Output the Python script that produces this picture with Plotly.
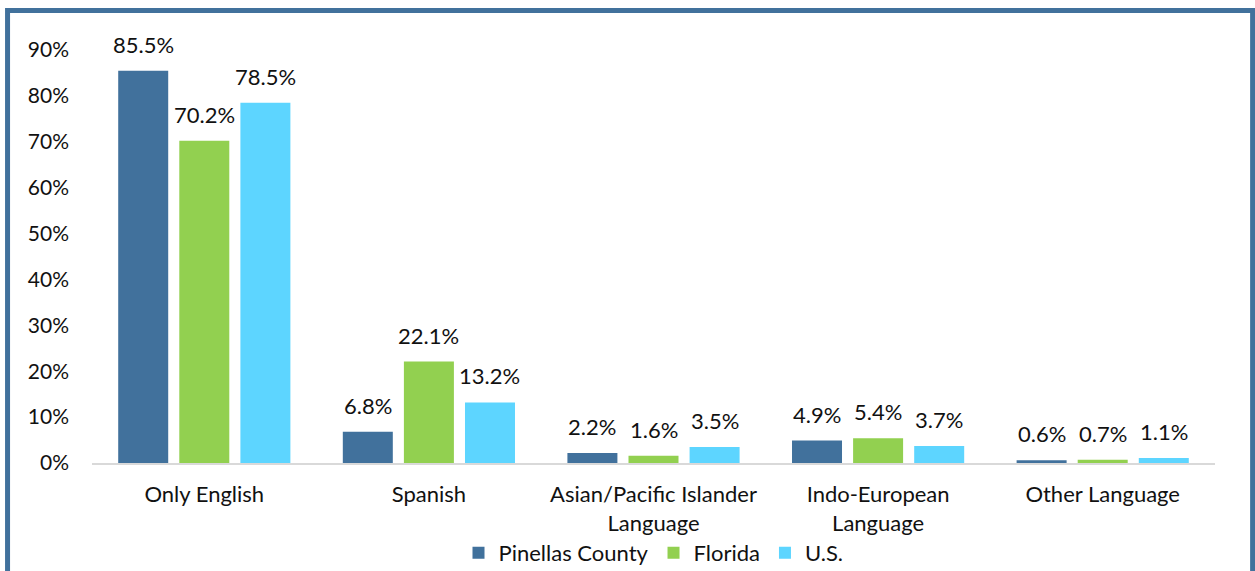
import plotly.graph_objects as go

categories = ["Only English", "Spanish", "Asian/Pacific Islander<br>Language",
              "Indo-European<br>Language", "Other Language"]
pinellas = [85.5, 6.8, 2.2, 4.9, 0.6]
florida = [70.2, 22.1, 1.6, 5.4, 0.7]
us = [78.5, 13.2, 3.5, 3.7, 1.1]
series_names = ["Pinellas County", "Florida", "U.S."]
colors = ["#41719C", "#92D050", "#5DD5FF"]
tick_vals = [0, 10, 20, 30, 40, 50, 60, 70, 80, 90]
tick_text = [f"{v}%" for v in tick_vals]

FONT = "Lato, Open Sans, sans-serif"
BAR_W = 0.2226
CENTERS = [-0.272, 0.0, 0.272]

fig = go.Figure()
annotations = []
for name, vals, col, c in zip(series_names, [pinellas, florida, us], colors, CENTERS):
    fig.add_trace(go.Bar(
        name=name, x=categories, y=vals, marker_color=col,
        marker_line_width=0, width=BAR_W, offset=c - BAR_W / 2,
    ))
    for i, v in enumerate(vals):
        annotations.append(dict(
            x=i + c, y=v, xref="x", yref="y", text=f"{v:.1f}%",
            showarrow=False, yanchor="bottom", yshift=11,
            font=dict(size=22, color="#111111", family=FONT)))

fig.update_layout(
    width=1255, height=571,
    margin=dict(l=92, r=40, t=50, b=108, autoexpand=False),
    paper_bgcolor="white", plot_bgcolor="white",
    barmode="overlay",
    font=dict(family=FONT, size=22, color="#111111"),
    showlegend=True,
    legend=dict(orientation="h", x=0.5, xanchor="center", y=-0.218, yanchor="middle",
                font=dict(size=22), itemwidth=30, traceorder="normal",
                bgcolor="rgba(0,0,0,0)"),
    annotations=annotations,
)
fig.update_yaxes(range=[0, 90], tickvals=tick_vals, ticktext=tick_text,
                 showgrid=False, zeroline=False, showline=False, ticks="",
                 ticklabelstandoff=22, tickfont=dict(size=21), automargin=False)
fig.update_xaxes(showgrid=False, showline=True, linecolor="#D9D9D9", linewidth=1.5,
                 ticks="", tickfont=dict(size=22), tickangle=0, automargin=False,
                 ticklabelstandoff=11)

# frame around chart
fig.add_shape(type="rect", xref="paper", yref="paper",
              x0=-0.0752, x1=1.0335, y0=-0.35, y1=1.0955,
              line=dict(color="#41719C", width=5), fillcolor="rgba(0,0,0,0)", layer="below")

fig.write_html("out.html", config={"displayModeBar": False},
               post_script="document.body.style.margin='0';")
